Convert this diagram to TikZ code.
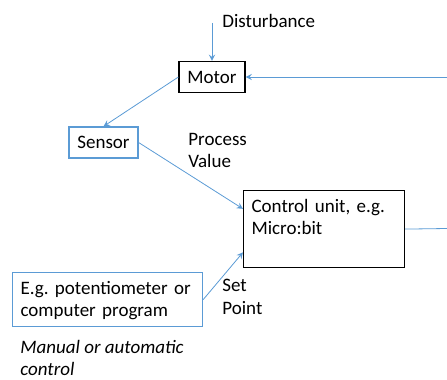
\documentclass[tikz,border=0pt]{standalone}
\usepackage{fontspec}
\setmainfont{Carlito}
\usepackage{tikz}
\usetikzlibrary{arrows}
\usetikzlibrary{positioning}
\definecolor{lnblue}{RGB}{91,155,213}
\tikzstyle{blk}=[shape=rectangle,draw,line width=0.6pt,inner sep=2pt]
\tikzstyle{blu}=[shape=rectangle,draw=lnblue,line width=0.6pt,inner sep=2pt]
\tikzstyle{txtbox}=[anchor=north west,align=left,inner xsep=4pt,inner ysep=2pt,text height=9pt]
\tikzstyle{tran}=[draw=lnblue,line width=0.4pt,->,>=stealth]
\tikzstyle{lbl}=[inner sep=0pt,align=left]
\frenchspacing

\begin{document}
\begin{tikzpicture}[x=0.5pt,y=-0.5pt,font=\fontsize{9.5}{11.2}\selectfont]
\useasboundingbox (0,0) rectangle (447,380);

\node[blk,minimum width=33pt,minimum height=15.5pt] (motor) at (212,77) {Motor};
\node[blu,minimum width=34.5pt,minimum height=15.5pt] (sensor) at (103.5,142.5) {Sensor};
\node[blk,txtbox,text width=72.5pt,text depth=25.5pt] (ctrl) at (243,190)
  {Control unit, e.g.\\Micro:bit};
\node[blu,txtbox,text width=87pt,text depth=14pt] (setp) at (12,272)
  {E.g. potentiometer or\\computer program};

% loose ends of the loop at the right edge
\coordinate (dtop) at (212,23);
\coordinate (inR) at (447,77);
\coordinate (outR) at (447,228.5);

\node[lbl,anchor=base west] (dist) at (222,28) {Disturbance};
\node[lbl,anchor=north west] (pv) at (188,133) {Process\\Value};
\node[lbl,anchor=north west] (sp) at (222,279) {Set\\Point};
\node[lbl,anchor=north west,font=\fontsize{9.5}{10.8}\selectfont\itshape] (manual) at (20,340)
  {Manual or automatic\\control};

\draw[tran] (dtop) -- (motor);
\draw[tran] (inR) -- (motor);
\draw[tran] (motor.west) -- (sensor.north);
\draw[tran] (sensor.east) -- (ctrl.166);
\draw[tran] (setp.east) -- (ctrl.196);
\draw[draw=lnblue,line width=0.4pt] (ctrl.east) -- (outR);
\end{tikzpicture}
\end{document}
